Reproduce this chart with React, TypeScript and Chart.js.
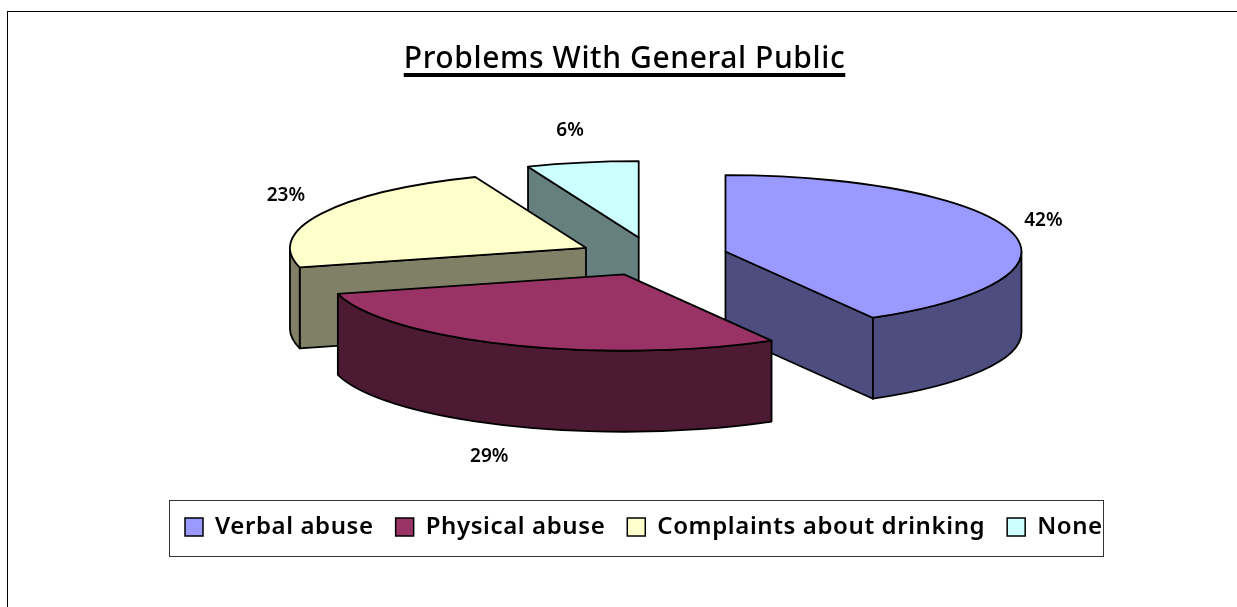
import React, { useEffect, useRef } from "react";
import { Chart, registerables } from "chart.js";

Chart.register(...registerables);

const categories = ["Verbal abuse", "Physical abuse", "Complaints about drinking", "None"];
const shares = [41.7, 29.2, 23, 6.1];
const topColors = ["#9999FF", "#993366", "#FFFFCC", "#CCFFFF"];
const wallColors = ["#4D4D80", "#4D1A33", "#808066", "#668080"];
const chartTitle = "Problems With General Public";

const FONT = '"Noto Sans"';
const W = 1237, H = 607;
const CX = 653, CY = 256.5, RADIUS = 296, TILT = 0.258, DEPTH = 81, EXPLODE = 75;
const WALL_ORDER = [3, 2, 0, 1];
const LEGEND_BOX = { l: 169.5, t: 500.5, r: 1103.5, b: 556.5 };
const LABEL_NUDGE = [[0, -3], [-8, 0], [-6, -3], [-6, 0]];

function geom(arc: any) {
  const mid = (arc.startAngle + arc.endAngle) / 2;
  const off = (arc.options.offset || 0) / 4;
  return {
    mid,
    ax: CX + Math.cos(mid) * off,
    ay: CY + Math.sin(mid) * off * TILT,
    r: RADIUS,
    s: arc.startAngle,
    e: arc.endAngle,
  };
}

const pie3d = {
  id: "pie3d",
  beforeUpdate(chart: any) {
    chart.ctx.letterSpacing = "0.6px";
  },
  afterLayout(chart: any) {
    const lg = chart.legend;
    const w = lg.right - lg.left, h = lg.bottom - lg.top;
    lg.left = 163; lg.right = lg.left + w;
    lg.top = 493; lg.bottom = lg.top + h;
    const tb = chart.titleBlock;
    tb.left += 6; tb.right += 6;
    const th = tb.bottom - tb.top;
    tb.top = 41; tb.bottom = tb.top + th;
  },
  beforeDraw(chart: any) {
    const ctx = chart.ctx;
    ctx.save();
    ctx.letterSpacing = "0px";
    ctx.fillStyle = "#fff";
    ctx.fillRect(0, 0, W, H);
    ctx.strokeStyle = "#000";
    ctx.lineWidth = 1;
    ctx.strokeRect(7.5, 11.5, W + 50, H + 50);
    ctx.strokeStyle = "#333";
    ctx.strokeRect(LEGEND_BOX.l, LEGEND_BOX.t, LEGEND_BOX.r - LEGEND_BOX.l, LEGEND_BOX.b - LEGEND_BOX.t);
    ctx.restore();
  },
  beforeDatasetsDraw(chart: any) {
    const ctx = chart.ctx;
    const arcs = chart.getDatasetMeta(0).data;
    // the arc element widens an offset slice by offset * fix; take that back out
    arcs.forEach((arc: any) => {
      const off = (arc.options.offset || 0) / 4;
      const fix = 1 - Math.sin(Math.min(Math.PI, arc.circumference || 0));
      arc.outerRadius = RADIUS - off * fix;
    });
    ctx.save();
    ctx.strokeStyle = "#000";
    ctx.lineWidth = 1.8;
    ctx.lineJoin = "round";
    for (const i of WALL_ORDER) {
      const g = geom(arcs[i]);
      ctx.fillStyle = wallColors[i];
      const faces: number[] = [];
      if (Math.cos(g.s) < -1e-6) faces.push(g.s);
      if (Math.cos(g.e) > 1e-6) faces.push(g.e);
      for (const a of faces) {
        const px = g.ax + Math.cos(a) * g.r, py = g.ay + Math.sin(a) * g.r * TILT;
        ctx.beginPath();
        ctx.moveTo(g.ax, g.ay);
        ctx.lineTo(px, py);
        ctx.lineTo(px, py + DEPTH);
        ctx.lineTo(g.ax, g.ay + DEPTH);
        ctx.closePath();
        ctx.fill();
        ctx.stroke();
      }
      const from = Math.max(g.s, 0), to = Math.min(g.e, Math.PI);
      if (to > from) {
        ctx.beginPath();
        ctx.ellipse(g.ax, g.ay, g.r, g.r * TILT, 0, from, to);
        ctx.ellipse(g.ax, g.ay + DEPTH, g.r, g.r * TILT, 0, to, from, true);
        ctx.closePath();
        ctx.fill();
        ctx.stroke();
      }
    }
    // underlay so the top faces reach the slice edges exactly
    arcs.forEach((arc: any, i: number) => {
      const g = geom(arc);
      ctx.fillStyle = topColors[i];
      ctx.beginPath();
      ctx.moveTo(g.ax, g.ay);
      ctx.ellipse(g.ax, g.ay, g.r, g.r * TILT, 0, g.s, g.e);
      ctx.closePath();
      ctx.fill();
    });
    ctx.restore();
    const a0 = arcs[0];
    ctx.save();
    ctx.translate(CX, CY);
    ctx.scale(1, TILT);
    ctx.translate(-a0.x, -a0.y);
  },
  afterDatasetsDraw(chart: any) {
    const ctx = chart.ctx;
    ctx.restore();
    const arcs = chart.getDatasetMeta(0).data;
    ctx.save();
    ctx.strokeStyle = "#000";
    ctx.lineWidth = 1.8;
    ctx.lineJoin = "round";
    arcs.forEach((arc: any) => {
      const g = geom(arc);
      ctx.beginPath();
      ctx.moveTo(g.ax, g.ay);
      ctx.ellipse(g.ax, g.ay, g.r, g.r * TILT, 0, g.s, g.e);
      ctx.closePath();
      ctx.stroke();
    });
    ctx.letterSpacing = "0px";
    ctx.fillStyle = "#000";
    ctx.font = `600 19px ${FONT}`;
    ctx.textAlign = "center";
    ctx.textBaseline = "middle";
    arcs.forEach((arc: any, i: number) => {
      const g = geom(arc);
      const c = Math.cos(g.mid), s = Math.sin(g.mid);
      const x = g.ax + c * (g.r + 33) + LABEL_NUDGE[i][0];
      const y = g.ay + s * g.r * TILT + s * 33 + (s > 0 ? DEPTH : 0) + LABEL_NUDGE[i][1];
      ctx.fillText(`${Math.round(shares[i])}%`, x, y);
    });
    ctx.restore();
  },
  afterDraw(chart: any) {
    const ctx = chart.ctx;
    const tb = chart.titleBlock;
    ctx.save();
    ctx.font = `500 30px ${FONT}`;
    const w = ctx.measureText(chartTitle).width;
    const c = (tb.left + tb.right) / 2;
    ctx.fillStyle = "#000";
    ctx.fillRect(c - w / 2, 73, w, 4);
    ctx.restore();
  },
};

export default function App() {
  const ref = useRef<HTMLCanvasElement>(null);
  useEffect(() => {
    const chart = new Chart(ref.current as HTMLCanvasElement, {
      type: "pie",
      data: {
        labels: categories,
        datasets: [
          {
            data: shares,
            backgroundColor: topColors,
            borderWidth: 0,
            offset: EXPLODE * 4,
            clip: false,
          } as any,
        ],
      },
      options: {
        responsive: false,
        animation: false,
        radius: RADIUS - EXPLODE,
        plugins: {
          tooltip: { enabled: false },
          title: {
            display: true,
            text: chartTitle,
            color: "#000",
            font: { family: FONT, size: 30, weight: "500" },
            padding: 0,
          },
          legend: {
            display: true,
            position: "bottom",
            align: "start",
            labels: {
              color: "#000",
              font: { family: FONT, size: 24, weight: "600" },
              boxWidth: 18,
              boxHeight: 18,
              padding: 22,
              generateLabels: () =>
                categories.map((text, i) => ({
                  text,
                  fillStyle: topColors[i],
                  strokeStyle: "#000",
                  lineWidth: 1.5,
                  index: i,
                  hidden: false,
                })),
            },
          },
        },
      },
      plugins: [pie3d as any],
    } as any);
    return () => chart.destroy();
  }, []);
  return (
    <div style={{ position: "absolute", left: 0, top: 0, width: W, height: H }}>
      <canvas ref={ref} width={W} height={H} style={{ display: "block" }} />
    </div>
  );
}
